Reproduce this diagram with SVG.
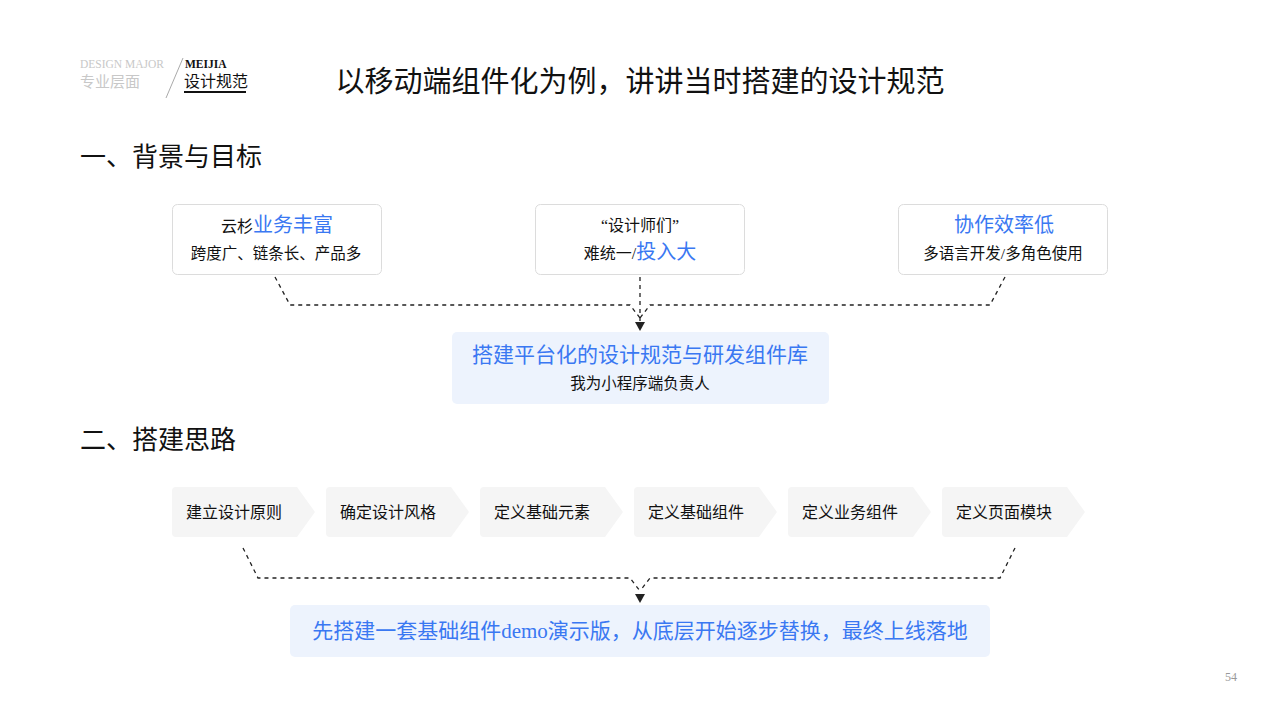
<svg xmlns="http://www.w3.org/2000/svg" width="1280" height="720" viewBox="0 0 1280 720">
<style>
.t{font-family:"Liberation Serif","Noto Sans CJK SC",serif;fill:#111}
.b{fill:#3a78f2}
.card{fill:#fff;stroke:#dcdcdc;stroke-width:1}
.blue{fill:#edf3fd}
.chev{fill:#f5f5f5}
.dash{fill:none;stroke:#222;stroke-width:1.3;stroke-dasharray:4 4}
</style>
<rect width="1280" height="720" fill="#fff"/>
<g id="header">
<text class="t" x="80" y="68" style="font-size:11.5px;fill:#c8c8c8">DESIGN MAJOR</text>
<text class="t" x="80" y="87" style="font-size:15px;fill:#c8c8c8">专业层面</text>
<line x1="183" y1="58" x2="166" y2="98" stroke="#aaa" stroke-width="1"/>
<text class="t" x="185" y="68" style="font-size:11.5px;font-weight:bold">MEIJIA</text>
<text class="t" x="184" y="87" style="font-size:16px">设计规范</text>
<rect x="184" y="91" width="62" height="2" fill="#111"/>
<text class="t" x="640" y="92" text-anchor="middle" style="font-size:29px">以移动端组件化为例，讲讲当时搭建的设计规范</text>
<text class="t" x="80" y="166" style="font-size:26px">一、背景与目标</text>
<text class="t" x="80" y="449" style="font-size:26px">二、搭建思路</text>
<text class="t" x="1225" y="681" style="font-size:12px;fill:#999">54</text>
</g>
<g id="connectors">
<path class="dash" d="M275,277 L290,305 L630,305 L640,318"/>
<path class="dash" d="M1005,277 L990,305 L650,305 L640,318"/>
<path class="dash" d="M640,277 L640,322"/>
<path d="M635,322 L645,322 L640,331 Z" fill="#222"/>
<path class="dash" d="M243,548 L258,578 L630,578 L640,591"/>
<path class="dash" d="M1015,548 L1000,578 L650,578 L640,591"/>
<path d="M635,594 L645,594 L640,603 Z" fill="#222"/>
</g>
<g id="card1">
<rect class="card" x="172.5" y="204.5" width="209" height="70" rx="5"/>
<text class="t" x="277" y="232" text-anchor="middle"><tspan style="font-size:16px">云杉</tspan><tspan class="b" style="font-size:20px">业务丰富</tspan></text>
<text class="t" x="276" y="259" text-anchor="middle" style="font-size:15.5px">跨度广、链条长、产品多</text>
</g>
<g id="card2">
<rect class="card" x="535.5" y="204.5" width="209" height="70" rx="5"/>
<text class="t" x="640" y="231" text-anchor="middle" style="font-size:16px">“设计师们”</text>
<text class="t" x="640" y="259" text-anchor="middle"><tspan style="font-size:16px">难统一/</tspan><tspan class="b" style="font-size:20px">投入大</tspan></text>
</g>
<g id="card3">
<rect class="card" x="898.5" y="204.5" width="209" height="70" rx="5"/>
<text class="t b" x="1004" y="232" text-anchor="middle" style="font-size:20px">协作效率低</text>
<text class="t" x="1003" y="259" text-anchor="middle" style="font-size:15.5px">多语言开发/多角色使用</text>
</g>
<g id="goal">
<rect class="blue" x="452" y="332" width="377" height="72" rx="5"/>
<text class="t b" x="640" y="362" text-anchor="middle" style="font-size:21px">搭建平台化的设计规范与研发组件库</text>
<text class="t" x="640" y="389" text-anchor="middle" style="font-size:15.5px">我为小程序端负责人</text>
</g>
<g id="step1"><path class="chev" d="M176,487 L297,487 L315,512 L297,537 L176,537 Q172,537 172,533 L172,491 Q172,487 176,487 Z"/><text class="t" x="186" y="518" style="font-size:16px">建立设计原则</text></g>
<g id="step2"><path class="chev" d="M330,487 L451,487 L469,512 L451,537 L330,537 Q326,537 326,533 L326,491 Q326,487 330,487 Z"/><text class="t" x="340" y="518" style="font-size:16px">确定设计风格</text></g>
<g id="step3"><path class="chev" d="M484,487 L605,487 L623,512 L605,537 L484,537 Q480,537 480,533 L480,491 Q480,487 484,487 Z"/><text class="t" x="494" y="518" style="font-size:16px">定义基础元素</text></g>
<g id="step4"><path class="chev" d="M638,487 L759,487 L777,512 L759,537 L638,537 Q634,537 634,533 L634,491 Q634,487 638,487 Z"/><text class="t" x="648" y="518" style="font-size:16px">定义基础组件</text></g>
<g id="step5"><path class="chev" d="M792,487 L913,487 L931,512 L913,537 L792,537 Q788,537 788,533 L788,491 Q788,487 792,487 Z"/><text class="t" x="802" y="518" style="font-size:16px">定义业务组件</text></g>
<g id="step6"><path class="chev" d="M946,487 L1067,487 L1085,512 L1067,537 L946,537 Q942,537 942,533 L942,491 Q942,487 946,487 Z"/><text class="t" x="956" y="518" style="font-size:16px">定义页面模块</text></g>
<g id="plan">
<rect class="blue" x="290" y="605" width="700" height="52" rx="5"/>
<text class="t b" x="640" y="638" text-anchor="middle" style="font-size:21px">先搭建一套基础组件demo演示版，从底层开始逐步替换，最终上线落地</text>
</g>
</svg>
